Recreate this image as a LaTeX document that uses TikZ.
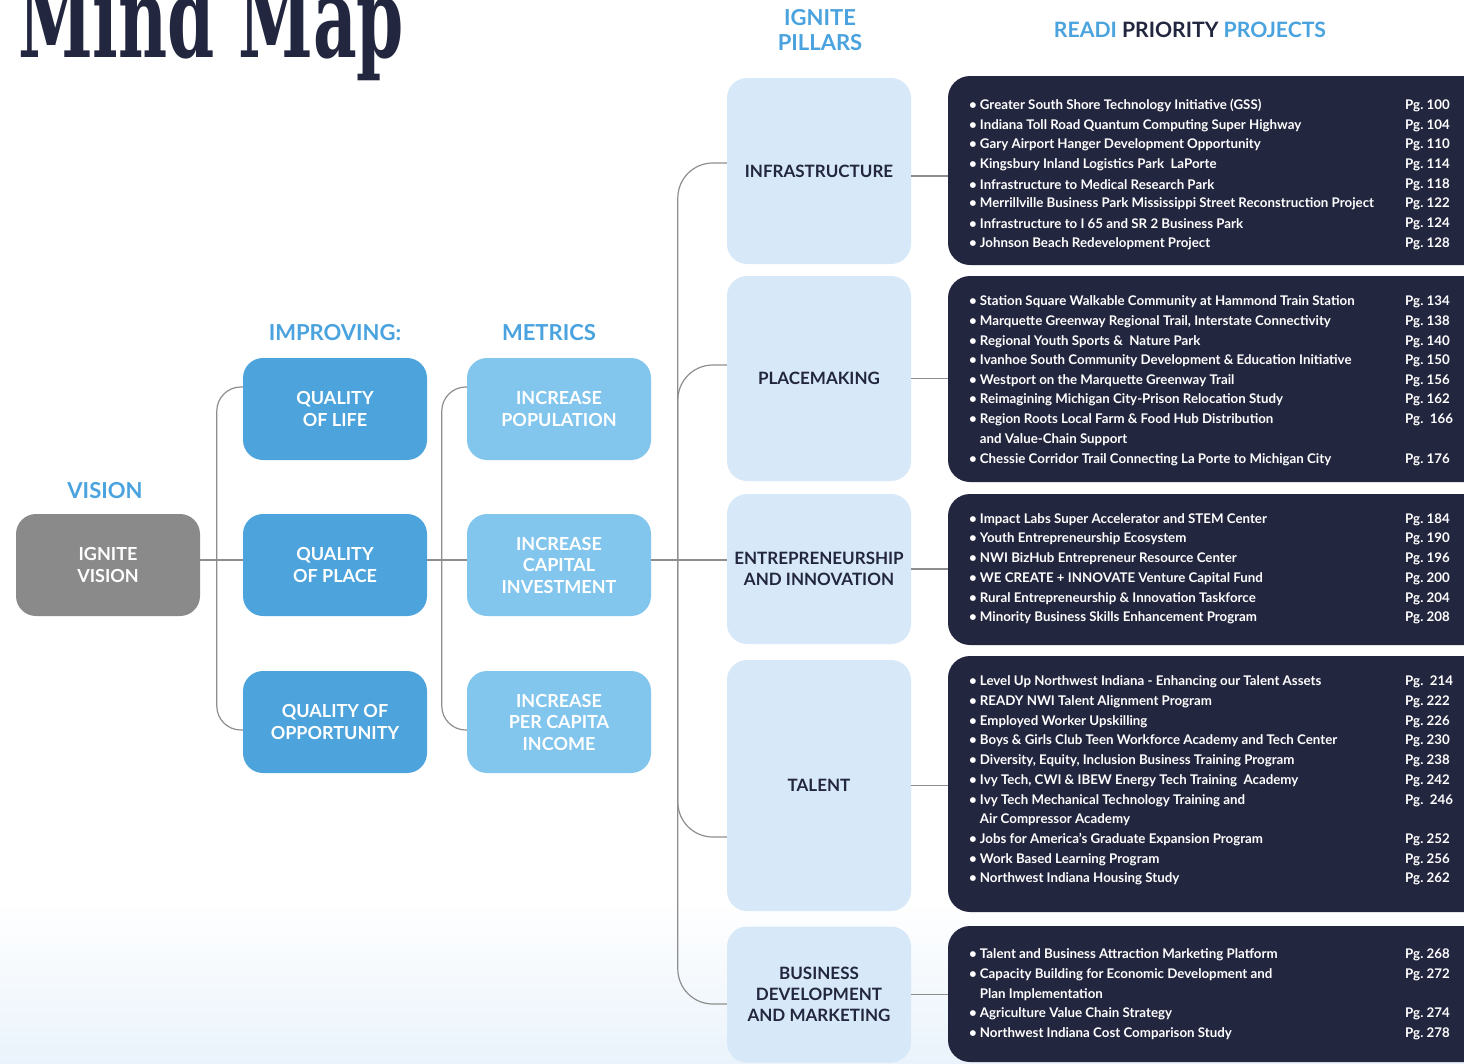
\documentclass[tikz,border=0pt]{standalone}
\usepackage{graphicx}
\usepackage{fontspec}
\setmainfont{Lato}
\newfontfamily\titlefont{DejaVu Serif Condensed}
\frenchspacing
\definecolor{navy}{HTML}{23263F}
\definecolor{headblue}{HTML}{4AA3DF}
\definecolor{qualblue}{HTML}{4DA3DB}
\definecolor{metricblue}{HTML}{82C6EE}
\definecolor{pillarblue}{HTML}{D7E9F8}
\definecolor{visiongray}{HTML}{8A8A8A}
\definecolor{linkgray}{HTML}{8E8E8E}
\definecolor{bgblue}{HTML}{EAF3FB}
\newcommand{\itm}{\textbullet\hspace{3pt}}

\begin{document}
\begin{tikzpicture}[x=1pt,y=-1pt,
  box/.style={rounded corners=20pt,minimum width=184pt,inner sep=0pt,align=center,text=white,font=\bfseries\fontsize{18}{21.5}\selectfont},
  visionbox/.style={box,fill=visiongray,minimum height=102pt},
  qualbox/.style={box,fill=qualblue,minimum height=102pt},
  metricbox/.style={box,fill=metricblue,minimum height=102pt},
  pillarbox/.style={box,fill=pillarblue,text=navy,font=\bfseries\fontsize{17}{21}\selectfont},
  projbox/.style={rounded corners=22pt,fill=navy,minimum width=542pt,inner sep=0pt},
  heading/.style={align=center,text=headblue,font=\bfseries\fontsize{22}{25}\selectfont},
  projitem/.style={anchor=west,yshift=-1.5pt,inner sep=0pt,text=white,font=\bfseries\fontsize{13.3}{15}\selectfont},
  pagenum/.style={projitem},
  link/.style={draw=linkgray,line width=1.2pt}]
% canvas
\useasboundingbox (0,0) rectangle (1464,1063);
\fill[white] (0,0) rectangle (1464,1063);
\shade[top color=white,bottom color=bgblue] (0,900) rectangle (1464,1063);
% title
\node[anchor=base west,inner sep=0pt,text=navy,font=\titlefont\bfseries\fontsize{112}{112}\selectfont] (title) at (18,57) {\scalebox{0.67}[1]{Mind Map}};
% headings
\node[heading] (visionHead) at (105,491) {VISION};
\node[heading] (improveHead) at (335,333) {IMPROVING:};
\node[heading] (metricHead) at (549,333) {METRICS};
\node[heading] (pillarHead) at (820,30) {IGNITE\\PILLARS};
\node[heading,font=\bfseries\fontsize{21.2}{24}\selectfont] (projHead) at (1190,30) {READI \textcolor{navy}{PRIORITY} PROJECTS};
% vision, improving, metrics
\node[visionbox] (vision) at (108,565) {IGNITE\\VISION};
\node[qualbox] (qLife) at (335,409) {QUALITY\\OF LIFE};
\node[qualbox] (qPlace) at (335,565) {QUALITY\\OF PLACE};
\node[qualbox] (qOpp) at (335,722) {QUALITY OF\\OPPORTUNITY};
\node[metricbox] (incPop) at (559,409) {INCREASE\\POPULATION};
\node[metricbox] (incCap) at (559,565) {INCREASE\\CAPITAL\\INVESTMENT};
\node[metricbox] (incInc) at (559,722) {INCREASE\\PER CAPITA\\INCOME};
% pillars
\node[pillarbox,minimum height=186pt] (infra) at (819,171) {INFRASTRUCTURE};
\node[pillarbox,minimum height=205pt] (placem) at (819,378.5) {PLACEMAKING};
\node[pillarbox,minimum height=150pt] (entre) at (819,569) {ENTREPRENEURSHIP\\AND INNOVATION};
\node[pillarbox,minimum height=251pt] (talent) at (819,785.5) {TALENT};
\node[pillarbox,minimum height=136pt] (busdev) at (819,994.5) {BUSINESS\\DEVELOPMENT\\AND MARKETING};
% project boxes
\node[projbox,minimum height=189pt] (projInfra) at (1219,170.5) {};
\node[projbox,minimum height=206pt] (projPlace) at (1219,379) {};
\node[projbox,minimum height=151pt] (projEntre) at (1219,569.5) {};
\node[projbox,minimum height=256pt] (projTalent) at (1219,784) {};
\node[projbox,minimum height=136pt] (projBus) at (1219,994) {};
% links
\draw[link] ([yshift=5pt]vision.east) -- ([yshift=5pt]qPlace.west);
\draw[link,rounded corners=24pt] ([yshift=22pt]qLife.west) -| ([xshift=-26pt]qPlace.west) |- ([yshift=-8pt]qOpp.west);
\draw[link] ([yshift=5pt]qPlace.east) -- ([yshift=5pt]incCap.west);
\draw[link,rounded corners=24pt] ([yshift=22pt]incPop.west) -| ([xshift=-25pt]incCap.west) |- ([yshift=-8pt]incInc.west);
\draw[link] ([yshift=5pt]incCap.east) -- ([yshift=9pt]entre.west);
\draw[link,rounded corners=35pt] ([yshift=8pt]infra.west) -| ([xshift=-49pt,yshift=9pt]entre.west) |- ([yshift=-9.5pt]busdev.west);
\draw[link,rounded corners=35pt] ([yshift=13.5pt]placem.west) -| ([xshift=-49pt,yshift=9pt]entre.west);
\draw[link,rounded corners=35pt] ([yshift=-51.5pt]talent.west) -| ([xshift=-49pt,yshift=9pt]entre.west);
\draw[link] ([yshift=-5pt]infra.east) -- ([yshift=-5pt]infra.east -| projInfra.west);
\draw[link] (placem.east) -- (placem.east -| projPlace.west);
\draw[link] (entre.east) -- (entre.east -| projEntre.west);
\draw[link] (talent.east) -- (talent.east -| projTalent.west);
\draw[link] (busdev.east) -- (busdev.east -| projBus.west);
% infrastructure projects
\foreach \y/\t in {104/{Greater South Shore Technology Initiative (GSS)},
  124/{Indiana Toll Road Quantum Computing Super Highway},
  143/{Gary Airport Hanger Development Opportunity},
  163/{Kingsbury Inland Logistics Park \ LaPorte},
  183/{Infrastructure to Medical Research Park},
  202/{Merrillville Business Park Mississippi Street Reconstruction Project},
  222/{Infrastructure to I 65 and SR 2 Business Park},
  242/{Johnson Beach Redevelopment Project}}
  \node[projitem] (item\y) at (969,\y) {\itm\t};
% placemaking projects
\foreach \y/\t in {300/{Station Square Walkable Community at Hammond Train Station},
  320/{Marquette Greenway Regional Trail, Interstate Connectivity},
  340/{Regional Youth Sports \& \ Nature Park},
  359/{Ivanhoe South Community Development \& Education Initiative},
  379/{Westport on the Marquette Greenway Trail},
  398/{Reimagining Michigan City-Prison Relocation Study},
  418/{Region Roots Local Farm \& Food Hub Distribution},
  458/{Chessie Corridor Trail Connecting La Porte to Michigan City}}
  \node[projitem] (item\y) at (969,\y) {\itm\t};
\node[projitem] (item438) at (969,438) {\phantom{\itm}and Value-Chain Support};
% entrepreneurship projects
\foreach \y/\t in {518/{Impact Labs Super Accelerator and STEM Center},
  537/{Youth Entrepreneurship Ecosystem},
  557/{NWI BizHub Entrepreneur Resource Center},
  577/{WE CREATE + INNOVATE Venture Capital Fund},
  597/{Rural Entrepreneurship \& Innovation Taskforce},
  616/{Minority Business Skills Enhancement Program}}
  \node[projitem] (item\y) at (969,\y) {\itm\t};
% talent projects
\foreach \y/\t in {680/{Level Up Northwest Indiana - Enhancing our Talent Assets},
  700/{READY NWI Talent Alignment Program},
  720/{Employed Worker Upskilling},
  739/{Boys \& Girls Club Teen Workforce Academy and Tech Center},
  759/{Diversity, Equity, Inclusion Business Training Program},
  779/{Ivy Tech, CWI \& IBEW Energy Tech Training \ Academy},
  799/{Ivy Tech Mechanical Technology Training and},
  838/{Jobs for America's Graduate Expansion Program},
  858/{Work Based Learning Program},
  877/{Northwest Indiana Housing Study}}
  \node[projitem] (item\y) at (969,\y) {\itm\t};
\node[projitem] (item818) at (969,818) {\phantom{\itm}Air Compressor Academy};
% business development projects
\foreach \y/\t in {953/{Talent and Business Attraction Marketing Platform},
  973/{Capacity Building for Economic Development and},
  1012/{Agriculture Value Chain Strategy},
  1032/{Northwest Indiana Cost Comparison Study}}
  \node[projitem] (item\y) at (969,\y) {\itm\t};
\node[projitem] (item993) at (969,993) {\phantom{\itm}Plan Implementation};
% page numbers
\foreach \y/\p in {104/100,124/104,143/110,163/114,183/118,202/122,222/124,242/128,
  300/134,320/138,340/140,359/150,379/156,398/162,418/{\ 166},458/176,
  518/184,537/190,557/196,577/200,597/204,616/208,
  680/{\ 214},700/222,720/226,739/230,759/238,779/242,799/{\ 246},838/252,858/256,877/262,
  953/268,973/272,1012/274,1032/278}
  \node[pagenum] (pg\y) at (1405,\y) {Pg. \p};
\end{tikzpicture}
\end{document}
